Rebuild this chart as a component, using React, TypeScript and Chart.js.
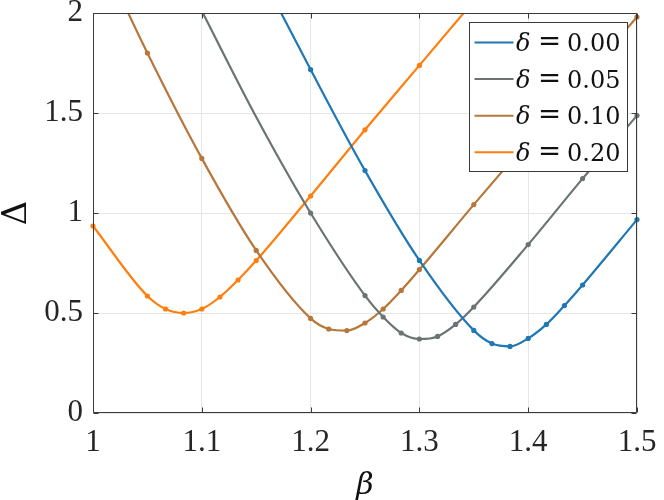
import React, { useEffect, useRef } from 'react';
import { Chart, registerables } from 'chart.js';

Chart.register(...registerables);

// ---- tick values and labels ----
const xTickValues = [1, 1.1, 1.2, 1.3, 1.4, 1.5];
const xTickLabels = ['1', '1.1', '1.2', '1.3', '1.4', '1.5'];
const yTickValues = [0, 0.5, 1, 1.5, 2];
const yTickLabels = ['0', '0.5', '1', '1.5', '2'];

// ---- series (delta values for the legend) ----
const seriesDeltas = ['0.00', '0.05', '0.10', '0.20'];
const seriesColors = ['#1f77b4', '#6b7473', '#b7773b', '#ff7f0e'];

// δ = 0.00
const beta000 = [1.15, 1.2, 1.25, 1.3, 1.35, 1.3667, 1.3833, 1.4, 1.4167, 1.4333, 1.45, 1.5];
const gap000 = [2.24, 1.717, 1.212, 0.763, 0.413, 0.347, 0.333, 0.373, 0.443, 0.537, 0.64, 0.967];
const unmarked000 = [0];

// δ = 0.05
const beta005 = [1.1, 1.15, 1.2, 1.25, 1.2667, 1.2833, 1.3, 1.3167, 1.3333, 1.35, 1.4, 1.45, 1.5];
const gap005 = [2.01, 1.48, 1.0, 0.587, 0.48, 0.4, 0.37, 0.383, 0.443, 0.53, 0.842, 1.172, 1.487];
const unmarked005 = [0, 1];

// δ = 0.10
const beta010 = [1.0, 1.05, 1.1, 1.15, 1.2, 1.2167, 1.2333, 1.25, 1.2667, 1.2833, 1.3, 1.35, 1.4, 1.45, 1.5];
const gap010 = [2.375, 1.8, 1.273, 0.813, 0.473, 0.42, 0.412, 0.45, 0.52, 0.613, 0.717, 1.042, 1.36, 1.67, 1.98];
const unmarked010 = [0];

// δ = 0.20
const beta020 = [1.0, 1.05, 1.0667, 1.0833, 1.1, 1.1167, 1.1333, 1.15, 1.2, 1.25, 1.3, 1.35];
const gap020 = [0.935, 0.585, 0.52, 0.5, 0.52, 0.58, 0.665, 0.762, 1.085, 1.416, 1.738, 2.06];
const unmarked020 = [11];

const seriesBeta = [beta000, beta005, beta010, beta020];
const seriesGap = [gap000, gap005, gap010, gap020];
const seriesUnmarked = [unmarked000, unmarked005, unmarked010, unmarked020];

const TICK_FAMILY = '"Liberation Serif", "Times New Roman", Times, serif';
const MATH_FAMILY = '"DejaVu Serif", "Liberation Serif", serif';

const framePlugin = {
  id: 'matlabFrame',
  afterDatasetsDraw(chart: any) {
    const { ctx, chartArea: a, scales } = chart;
    const L = Math.round(a.left) + 0.5;
    const R = Math.round(a.right) - 0.5;
    const T = Math.round(a.top) + 0.5;
    const B = Math.round(a.bottom) - 0.5;
    ctx.save();
    ctx.strokeStyle = '#3a3a3a';
    ctx.lineWidth = 1;
    ctx.beginPath();
    ctx.rect(L, T, R - L, B - T);
    ctx.stroke();
    const tl = 5;
    ctx.beginPath();
    xTickValues.forEach((v) => {
      const px = Math.round(scales.x.getPixelForValue(v)) + 0.5;
      ctx.moveTo(px, B);
      ctx.lineTo(px, B - tl);
      ctx.moveTo(px, T);
      ctx.lineTo(px, T + tl);
    });
    yTickValues.forEach((v) => {
      const py = Math.round(scales.y.getPixelForValue(v)) + 0.5;
      ctx.moveTo(L, py);
      ctx.lineTo(L + tl, py);
      ctx.moveTo(R, py);
      ctx.lineTo(R - tl, py);
    });
    ctx.stroke();
    ctx.restore();
  },
};

const legendPlugin = {
  id: 'matlabLegend',
  afterDraw(chart: any) {
    const { ctx, chartArea: a } = chart;
    const bx = Math.round(a.right) - 167.5;
    const by = Math.round(a.top) + 9.5;
    const bw = 158;
    const bh = 149;
    ctx.save();
    ctx.fillStyle = '#ffffff';
    ctx.fillRect(bx, by, bw, bh);
    ctx.strokeStyle = '#3a3a3a';
    ctx.lineWidth = 1;
    ctx.strokeRect(bx, by, bw, bh);
    seriesDeltas.forEach((d, i) => {
      const cy = by + 20 + i * 36.6;
      ctx.strokeStyle = seriesColors[i];
      ctx.lineWidth = 2;
      ctx.beginPath();
      ctx.moveTo(bx + 5, cy);
      ctx.lineTo(bx + 44, cy);
      ctx.stroke();
      const base = cy + 8.5;
      ctx.fillStyle = '#111111';
      ctx.textBaseline = 'alphabetic';
      ctx.textAlign = 'left';
      ctx.font = `italic 24px ${MATH_FAMILY}`;
      ctx.fillText('δ', bx + 46.5, base);
      ctx.save();
      ctx.font = `24px ${MATH_FAMILY}`;
      ctx.textAlign = 'center';
      ctx.translate(bx + 80, base - 1);
      ctx.scale(1.15, 1.15);
      ctx.fillText('=', 0, 0);
      ctx.restore();
      ctx.font = `24px ${MATH_FAMILY}`;
      ctx.textAlign = 'left';
      ctx.fillText(d, bx + 97.5, base);
    });
    ctx.restore();
  },
};

export default function App() {
  const canvasRef = useRef<HTMLCanvasElement | null>(null);

  useEffect(() => {
    document.body.style.margin = '0';
    const canvas = canvasRef.current;
    if (!canvas) return;

    const datasets = seriesDeltas.map((d, i) => ({
      label: `δ = ${d}`,
      data: seriesBeta[i].map((b, j) => ({ x: b, y: seriesGap[i][j] })),
      borderColor: seriesColors[i],
      backgroundColor: seriesColors[i],
      borderWidth: 2.2,
      pointRadius: (c: any) => (seriesUnmarked[i].includes(c.dataIndex) ? 0 : 2.6),
      pointBorderWidth: 0,
      pointHoverRadius: 0,
      cubicInterpolationMode: 'monotone' as const,
      fill: false,
      clip: { left: 5, right: 5, top: 0, bottom: 0 },
    }));

    let chart: Chart | null = null;
    let cancelled = false;

    const build = () => {
      if (cancelled) return;
      chart = new Chart(canvas, {
        type: 'line',
        data: { datasets },
        plugins: [framePlugin, legendPlugin],
        options: {
          responsive: false,
          animation: false,
          events: [],
          layout: { padding: { top: 13, right: 27, left: 0, bottom: 0 } },
          plugins: { legend: { display: false }, tooltip: { enabled: false } },
          scales: {
            x: {
              type: 'linear',
              min: 1,
              max: 1.5,
              afterBuildTicks: (s: any) => {
                s.ticks = xTickValues.map((v) => ({ value: v }));
              },
              afterFit: (s: any) => {
                s.height = 87;
                s.paddingLeft = 0;
                s.paddingRight = 0;
                s.paddingTop = 0;
                s.paddingBottom = 0;
              },
              ticks: {
                callback: (_v: any, idx: number) => xTickLabels[idx],
                font: { family: TICK_FAMILY, size: 31, lineHeight: 1.0 },
                color: '#262626',
                padding: 14,
                maxRotation: 0,
                autoSkip: false,
              },
              grid: { color: '#e6e6e6', lineWidth: 1, drawTicks: false },
              border: { display: false },
              title: {
                display: true,
                text: 'β',
                font: { family: MATH_FAMILY, style: 'italic', size: 30, lineHeight: 0.9 },
                color: '#111111',
                padding: 0,
              },
            },
            y: {
              type: 'linear',
              min: 0,
              max: 2,
              afterBuildTicks: (s: any) => {
                s.ticks = yTickValues.map((v) => ({ value: v }));
              },
              afterFit: (s: any) => {
                s.width = 93;
                s.paddingLeft = 0;
                s.paddingRight = 0;
                s.paddingTop = 0;
                s.paddingBottom = 0;
              },
              ticks: {
                callback: (_v: any, idx: number) => yTickLabels[idx],
                font: { family: TICK_FAMILY, size: 31, lineHeight: 0.8 },
                color: '#262626',
                padding: 10,
                autoSkip: false,
              },
              grid: { color: '#e6e6e6', lineWidth: 1, drawTicks: false },
              border: { display: false },
              title: {
                display: true,
                text: 'Δ',
                font: { family: MATH_FAMILY, size: 34, lineHeight: 1.0 },
                color: '#111111',
                padding: 0,
              },
            },
          },
        },
      });
    };

    const fontsApi: any = (document as any).fonts;
    if (fontsApi && fontsApi.load) {
      Promise.all([
        fontsApi.load('31px "Liberation Serif"'),
        fontsApi.load('24px "DejaVu Serif"'),
        fontsApi.load('italic 24px "DejaVu Serif"'),
      ])
        .catch(() => null)
        .then(build);
    } else {
      build();
    }

    return () => {
      cancelled = true;
      if (chart) chart.destroy();
    };
  }, []);

  return (
    <div style={{ position: 'absolute', left: 0, top: 0, width: 664, height: 500 }}>
      <canvas ref={canvasRef} width={664} height={500} />
    </div>
  );
}
